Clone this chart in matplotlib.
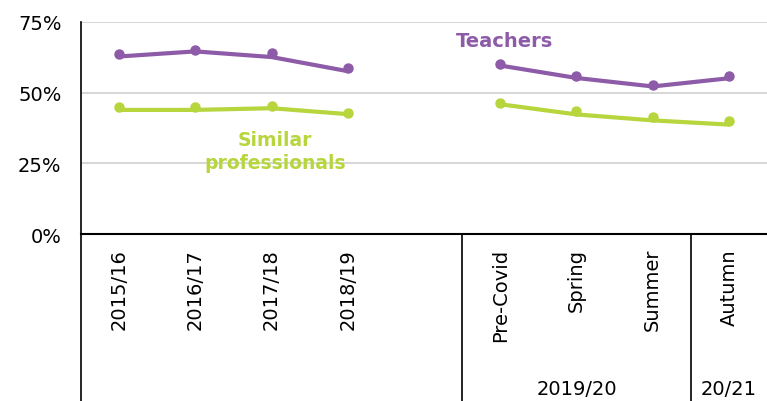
import matplotlib
matplotlib.use('Agg')
import matplotlib.pyplot as plt
import matplotlib.transforms as transforms

categories = ['2015/16', '2016/17', '2017/18', '2018/19', '',
              'Pre-Covid', 'Spring', 'Summer', 'Autumn']
groups = [('2019/20', 6), ('20/21', 8)]

# Dots (survey values) and the fitted line drawn through them
teachers_dots = [63.7, 65.1, 63.9, 58.6, None, 60.1, 55.8, 52.8, 56.0]
teachers_line = [62.8, 64.6, 62.6, 57.6, None, 59.6, 55.2, 52.2, 55.1]
similar_dots = [44.8, 45.0, 45.4, 42.8, None, 46.3, 43.6, 41.5, 40.1]
similar_line = [43.9, 43.9, 44.5, 42.4, None, 45.9, 42.3, 40.2, 38.7]

purple = '#8D5BA8'
green = '#B7D53C'

plt.rcParams['font.family'] = ['DejaVu Sans']

fig = plt.figure(figsize=(7.67, 4.02), dpi=100)
ax = fig.add_axes([0.1056, 0.4154, 0.8944, 0.5274])

x = list(range(len(categories)))


def split(vals):
    # break the series at the empty slot
    segs, cur = [], []
    for xi, v in zip(x, vals):
        if v is None:
            if cur:
                segs.append(cur)
            cur = []
        else:
            cur.append((xi, v))
    if cur:
        segs.append(cur)
    return segs


for line_vals, dot_vals, col in [(teachers_line, teachers_dots, purple),
                                 (similar_line, similar_dots, green)]:
    for seg in split(line_vals):
        ax.plot([p[0] for p in seg], [p[1] for p in seg], color=col,
                lw=3, solid_capstyle='round', zorder=3)
    for seg in split(dot_vals):
        ax.plot([p[0] for p in seg], [p[1] for p in seg], 'o', color=col,
                ms=6.5, zorder=4)

ax.set_xlim(-0.5, 8.5)
ax.set_ylim(0, 75)
ax.set_yticks([0, 25, 50, 75])
ax.set_yticklabels(['0%', '25%', '50%', '75%'], fontsize=14)
ax.yaxis.grid(True, color='#d0d0d0', lw=1.2)
ax.set_axisbelow(True)
ax.tick_params(axis='y', length=0, pad=14)

ax.set_xticks(x)
ax.set_xticklabels(categories, rotation=90, fontsize=14)
ax.tick_params(axis='x', length=0, pad=10)

for s in ['top', 'right']:
    ax.spines[s].set_visible(False)
ax.spines['left'].set_color('black')
ax.spines['bottom'].set_color('black')
ax.spines['left'].set_linewidth(1.2)
ax.spines['bottom'].set_linewidth(1.5)

# vertical separators below the axis
trans = transforms.blended_transform_factory(ax.transData, ax.transAxes)
bottom = -0.4154 / 0.5274
ax.plot([-0.5, -0.5], [0, bottom], color='black', lw=1.2,
        transform=trans, clip_on=False)
for xs in [4.5, 7.5]:
    ax.plot([xs, xs], [0, bottom], color='black', lw=1.2,
            transform=trans, clip_on=False)

for label, xc in groups:
    ax.text(xc, bottom + 0.06, label, transform=trans, ha='center',
            va='center', fontsize=14)

ax.text(5.05, 68.3, 'Teachers', color=purple, fontsize=14,
        fontweight='bold', ha='center', va='center')
ax.text(2.05, 29.4, 'Similar\nprofessionals', color=green, fontsize=13.5,
        fontweight='bold', ha='center', va='center', linespacing=1.25)

fig.savefig('out.png', dpi=100)
